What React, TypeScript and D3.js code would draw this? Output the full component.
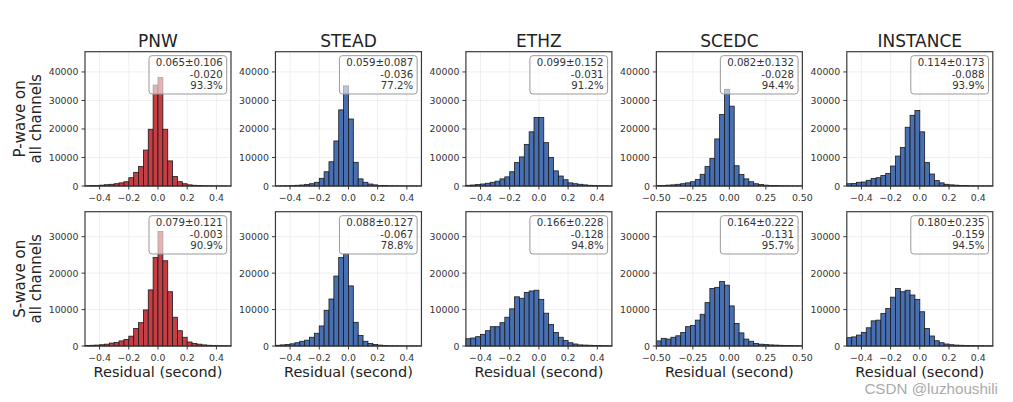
import React from 'react';
import * as d3 from 'd3';

// ---------- data ----------
const DATASETS = ['PNW', 'STEAD', 'ETHZ', 'SCEDC', 'INSTANCE'];
const ROW_LABELS = [['P-wave on', 'all channels'], ['S-wave on', 'all channels']];
const X_LABEL = 'Residual (second)';
const WATERMARK = 'CSDN @luzhoushili';

const X_MIN = -0.5;
const X_MAX = 0.5;
const N_BINS = 30;

const X_TICKS_DEFAULT = [-0.4, -0.2, 0, 0.2, 0.4];
const X_TICK_LABELS_DEFAULT = ['−0.4', '−0.2', '0.0', '0.2', '0.4'];
const X_TICKS_SCEDC = [-0.5, -0.25, 0, 0.25, 0.5];
const X_TICK_LABELS_SCEDC = ['−0.50', '−0.25', '0.00', '0.25', '0.50'];

const Y_TICKS_P = [0, 10000, 20000, 30000, 40000];
const Y_TICKS_S = [0, 10000, 20000, 30000];
const Y_MAX_P = 47100;
const Y_MAX_S = 36860;

// P-wave counts (30 bins, -0.5 .. 0.5)
const PNW_P = [100, 150, 200, 300, 450, 600, 800, 1100, 1500, 2900, 4800, 6800, 12600, 19900, 35400, 38000, 19900, 8800, 3300, 1500, 800, 400, 250, 150, 100, 80, 60, 50, 40, 30];
const STEAD_P = [60, 80, 100, 150, 250, 350, 500, 800, 1300, 2700, 5000, 8500, 15800, 26700, 35100, 23500, 8300, 2500, 1300, 700, 400, 200, 150, 100, 80, 60, 50, 40, 30, 20];
const ETHZ_P = [250, 350, 500, 700, 950, 1300, 1700, 2500, 3200, 5000, 8200, 10200, 14600, 19000, 24000, 24000, 15200, 10000, 5300, 3500, 2200, 1100, 800, 600, 400, 250, 180, 130, 100, 80];
const SCEDC_P = [150, 200, 300, 400, 600, 800, 1100, 1500, 2300, 4100, 6800, 9700, 16500, 25100, 33900, 28000, 7100, 4000, 2500, 1500, 800, 500, 300, 200, 150, 100, 80, 60, 50, 40];
const INSTANCE_P = [800, 900, 1300, 1400, 2000, 2600, 2900, 3700, 4400, 7000, 10500, 13500, 20600, 24800, 26500, 19000, 8200, 4200, 1900, 1100, 600, 400, 300, 200, 150, 100, 80, 60, 50, 40];

// S-wave counts
const PNW_S = [150, 200, 250, 350, 500, 800, 1000, 1400, 1800, 2700, 4800, 6400, 9900, 15400, 24300, 31400, 23400, 14900, 7900, 4200, 2400, 1100, 700, 500, 300, 200, 150, 100, 80, 60];
const STEAD_S = [200, 300, 400, 600, 900, 1300, 1600, 2400, 3500, 5500, 9800, 12900, 19200, 24300, 25300, 16500, 6500, 2900, 1300, 700, 400, 250, 150, 100, 80, 60, 50, 40, 30, 20];
const ETHZ_S = [2000, 2200, 2560, 3200, 4200, 5300, 5300, 6400, 7900, 10200, 13500, 13100, 14700, 15100, 15300, 12800, 9000, 5900, 3700, 2400, 1500, 900, 550, 300, 250, 200, 150, 120, 100, 80];
const SCEDC_S = [1400, 2100, 1900, 2400, 2800, 3700, 5300, 5600, 7100, 8700, 11900, 15800, 16100, 17700, 16700, 11000, 6200, 3600, 1900, 1300, 700, 500, 400, 300, 250, 200, 150, 120, 100, 80];
const INSTANCE_S = [2300, 2500, 3000, 3750, 5000, 6900, 7100, 8900, 10300, 13400, 15800, 14900, 15300, 14000, 12800, 9400, 4800, 2750, 1450, 900, 550, 350, 250, 200, 150, 120, 100, 80, 60, 50];

const STATS_P = [
  ['0.065±0.106', '-0.020', '93.3%'],
  ['0.059±0.087', '-0.036', '77.2%'],
  ['0.099±0.152', '-0.031', '91.2%'],
  ['0.082±0.132', '-0.028', '94.4%'],
  ['0.114±0.173', '-0.088', '93.9%'],
];
const STATS_S = [
  ['0.079±0.121', '-0.003', '90.9%'],
  ['0.088±0.127', '-0.067', '78.8%'],
  ['0.166±0.228', '-0.128', '94.8%'],
  ['0.164±0.222', '-0.131', '95.7%'],
  ['0.180±0.235', '-0.159', '94.5%'],
];

// ---------- layout / style ----------
const W = 1013;
const H = 402;
const PANEL_LEFT0 = 85;
const PANEL_STEP = 190.45;
const PANEL_W = 146;
const ROW_TOP = [51.7, 211.7];
const ROW_H = 134.3;
const RED = '#c63d43';
const BLUE = '#476fb2';
const FONT = "'DejaVu Sans', sans-serif";
const SPINE = '#3a3a3a';
const TEXT = '#333';

const ROWS = [
  { counts: [PNW_P, STEAD_P, ETHZ_P, SCEDC_P, INSTANCE_P], stats: STATS_P, yMax: Y_MAX_P, yTicks: Y_TICKS_P },
  { counts: [PNW_S, STEAD_S, ETHZ_S, SCEDC_S, INSTANCE_S], stats: STATS_S, yMax: Y_MAX_S, yTicks: Y_TICKS_S },
];

function Panel({ row, col }: { row: number; col: number }) {
  const r = ROWS[row];
  const left = PANEL_LEFT0 + PANEL_STEP * col;
  const top = ROW_TOP[row];
  const x = d3.scaleLinear().domain([X_MIN, X_MAX]).range([left, left + PANEL_W]);
  const y = d3.scaleLinear().domain([0, r.yMax]).range([top + ROW_H, top]);
  const counts = r.counts[col];
  const binW = (X_MAX - X_MIN) / N_BINS;
  const isScedc = DATASETS[col] === 'SCEDC';
  const xTicks = isScedc ? X_TICKS_SCEDC : X_TICKS_DEFAULT;
  const xTickLabels = isScedc ? X_TICK_LABELS_SCEDC : X_TICK_LABELS_DEFAULT;
  const color = DATASETS[col] === 'PNW' ? RED : BLUE;
  const bottom = top + ROW_H;
  const right = left + PANEL_W;
  const stats = r.stats[col];
  const boxW = 77.7;
  const boxH = 38.3;
  const boxX = right - 4.3 - boxW;
  const boxY = top + 4;
  return (
    <g>
      {/* grid */}
      {xTicks.map((t, i) => (
        <line key={'gx' + i} x1={x(t)} x2={x(t)} y1={top} y2={bottom} stroke="#ebebeb" strokeWidth={0.8} />
      ))}
      {r.yTicks.map((t, i) => (
        <line key={'gy' + i} x1={left} x2={right} y1={y(t)} y2={y(t)} stroke="#ebebeb" strokeWidth={0.8} />
      ))}
      {/* bars */}
      {counts.map((c, i) => {
        const x0 = x(X_MIN + i * binW);
        const x1 = x(X_MIN + (i + 1) * binW);
        return (
          <rect key={'b' + i} x={x0} y={y(c)} width={x1 - x0} height={y(0) - y(c)} fill={color} stroke="#1a1a1a" strokeWidth={0.8} />
        );
      })}
      {/* stats box */}
      <rect x={boxX} y={boxY} width={boxW} height={boxH} rx={3} ry={3} fill="#fff" fillOpacity={0.6} stroke="#999" strokeWidth={1} />
      {stats.map((s, i) => (
        <text key={'s' + i} x={right - 8.3} y={top + 14.3 + i * 11.7} textAnchor="end" fontSize={10.2} fill={TEXT} fontFamily={FONT}>
          {s}
        </text>
      ))}
      {/* spines */}
      <rect x={left} y={top} width={PANEL_W} height={ROW_H} fill="none" stroke={SPINE} strokeWidth={1.2} />
      {/* y ticks */}
      {r.yTicks.map((t, i) => (
        <g key={'yt' + i}>
          <line x1={left - 3.5} x2={left} y1={y(t)} y2={y(t)} stroke={SPINE} strokeWidth={1} />
          <text x={left - 6.5} y={y(t)} textAnchor="end" dominantBaseline="central" fontSize={9.4} fill={TEXT} fontFamily={FONT}>
            {t}
          </text>
        </g>
      ))}
      {/* x ticks */}
      {xTicks.map((t, i) => (
        <g key={'xt' + i}>
          <line x1={x(t)} x2={x(t)} y1={bottom} y2={bottom + 3.5} stroke={SPINE} strokeWidth={1} />
          <text x={x(t)} y={bottom + 15} textAnchor="middle" fontSize={9.4} fill={TEXT} fontFamily={FONT}>
            {xTickLabels[i]}
          </text>
        </g>
      ))}
      {row === 0 && (
        <text x={(left + right) / 2} y={47} textAnchor="middle" fontSize={17} fill="#222" fontFamily={FONT}>
          {DATASETS[col]}
        </text>
      )}
      {row === 1 && (
        <text x={(left + right) / 2} y={376.5} textAnchor="middle" fontSize={14.5} fill="#222" fontFamily={FONT}>
          {X_LABEL}
        </text>
      )}
    </g>
  );
}

export default function App() {
  return (
    <svg width={W} height={H} style={{ position: 'absolute', left: 0, top: 0, background: '#fff' }}>
      <rect x={0} y={0} width={W} height={H} fill="#fff" />
      {[0, 1].map((row) =>
        DATASETS.map((_, col) => <Panel key={row + '-' + col} row={row} col={col} />)
      )}
      {ROW_LABELS.map((lines, row) => {
        const cy = ROW_TOP[row] + ROW_H / 2;
        return (
          <g key={'yl' + row}>
            {lines.map((ln, i) => {
              const cx = 20 + i * 16.5;
              return (
                <text key={i} x={cx} y={cy} transform={`rotate(-90 ${cx} ${cy})`} textAnchor="middle" dominantBaseline="central" fontSize={15} fill="#222" fontFamily={FONT}>
                  {ln}
                </text>
              );
            })}
          </g>
        );
      })}
      <text x={998} y={393.5} textAnchor="end" fontSize={15.2} fill="#aaa" fontFamily="'Liberation Sans', Arial, sans-serif">
        {WATERMARK}
      </text>
    </svg>
  );
}
